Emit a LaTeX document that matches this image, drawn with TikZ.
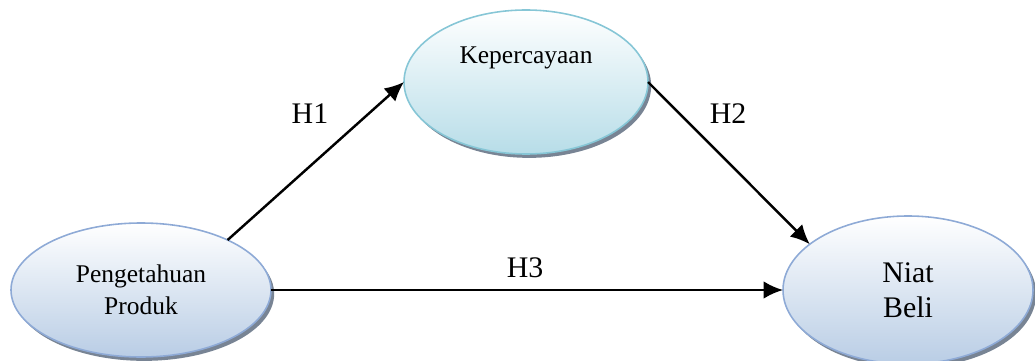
\documentclass[tikz,border=0pt]{standalone}
\usepackage{fontspec}
\setmainfont{Liberation Serif}
\usetikzlibrary{arrows.meta,shapes.geometric,shadows}
\definecolor{prodLine}{RGB}{142,170,214}
\definecolor{prodFill}{RGB}{185,205,229}
\definecolor{trustLine}{RGB}{134,198,214}
\definecolor{trustFill}{RGB}{183,221,232}
\definecolor{rimColor}{RGB}{120,132,148}

\begin{document}
\begin{tikzpicture}[>={Latex[length=11pt,width=10pt]},
 construct/.style={ellipse,draw=prodLine,line width=0.9pt,outer sep=0pt,inner sep=0pt,
   top color=white,bottom color=prodFill,align=center,
   general shadow={fill=rimColor,shadow xshift=1.8pt,shadow yshift=-2.2pt}},
 mediator/.style={construct,draw=trustLine,bottom color=trustFill},
 arrow/.style={->,line width=1.4pt},
 hyp/.style={font=\fontsize{17}{20}\selectfont}]
\useasboundingbox (0,0) rectangle (20.7,-7.22);
\node[construct,minimum width=5.2cm,minimum height=2.68cm,
  font=\fontsize{14.5}{18}\selectfont] (prod) at (2.82,-5.8) {Pengetahuan\\Produk};
\node[mediator,minimum width=4.88cm,minimum height=2.88cm] (trust) at (10.52,-1.64) {};
\node[font=\fontsize{14.5}{18}\selectfont,anchor=north] (trustText) at ([yshift=-0.62cm]trust.north) {Kepercayaan};
\node[construct,minimum width=5.0cm,minimum height=2.96cm,
  font=\fontsize{17}{20}\selectfont] (beli) at (18.16,-5.8) {Niat\\Beli};
\draw[arrow] (prod.30) -- (trust.west);
\draw[arrow] (trust.east) -- (beli.155);
\draw[arrow] (prod.east) -- (prod.east -| beli.west);
\node[hyp] (h1) at (6.2,-2.27) {H1};
\node[hyp] (h2) at (14.56,-2.27) {H2};
\node[hyp] (h3) at (10.5,-5.36) {H3};
\end{tikzpicture}
\end{document}
